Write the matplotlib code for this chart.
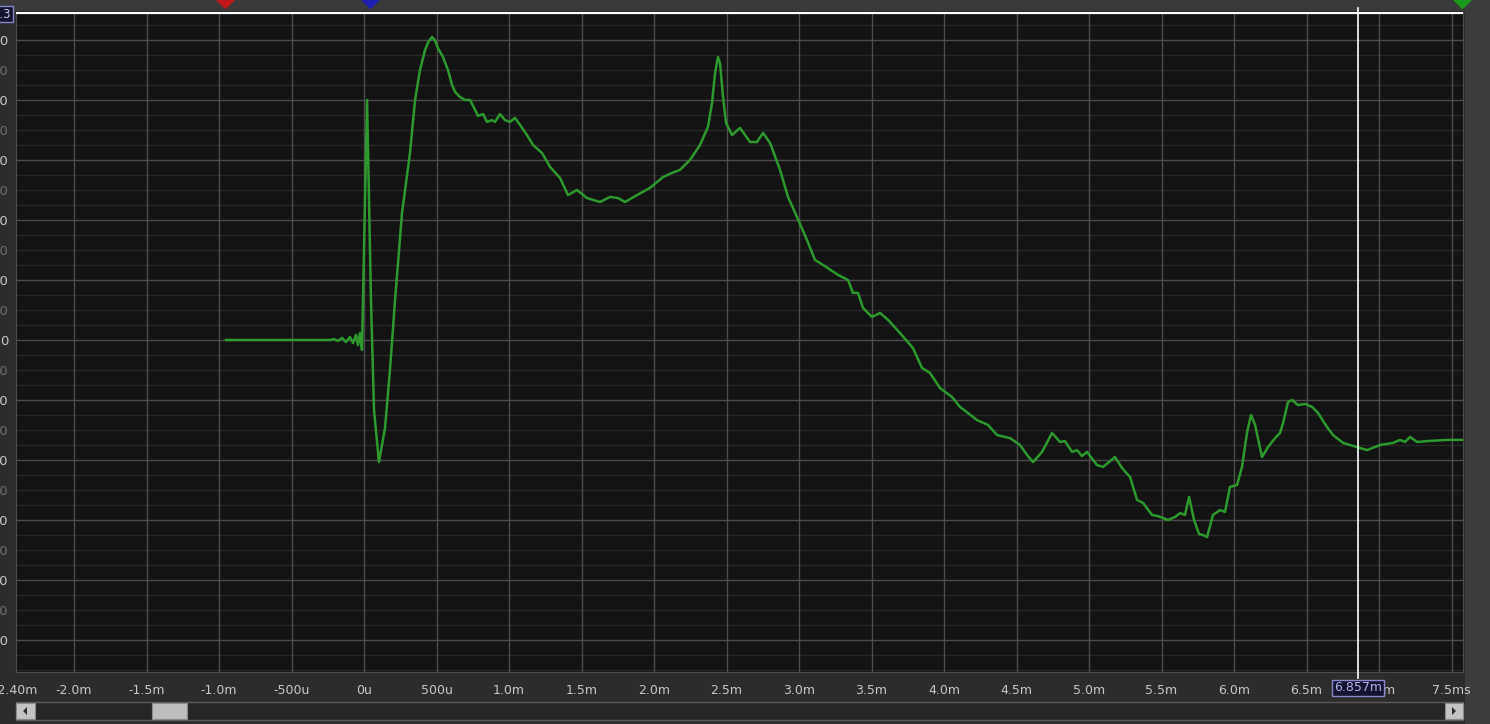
import numpy as np
import matplotlib
matplotlib.use('Agg')
import matplotlib.pyplot as plt
from matplotlib.patches import Rectangle, Polygon

# time axis in ms, amplitude in arbitrary units (grid every 10)
t_ms = [-0.952, -0.234, -0.207, -0.179, -0.152, -0.124, -0.097, -0.076, -0.055, -0.041,
        -0.028, -0.014, 0.021, 0.048, 0.069, 0.103, 0.124, 0.145, 0.179, 0.214,
        0.262, 0.317, 0.352, 0.386, 0.421, 0.445, 0.469, 0.490, 0.510, 0.545, 0.579, 0.607,
        0.628, 0.662, 0.697, 0.731, 0.766, 0.786, 0.821, 0.848, 0.883, 0.903,
        0.938, 0.972, 1.007, 1.041, 1.076, 1.124, 1.166, 1.228, 1.283, 1.352,
        1.407, 1.469, 1.538, 1.628, 1.697, 1.752, 1.800, 1.883, 1.972, 2.062,
        2.124, 2.179, 2.248, 2.317, 2.372, 2.400, 2.421, 2.441, 2.455, 2.476,
        2.497, 2.538, 2.593, 2.662, 2.710, 2.752, 2.800, 2.869, 2.924, 2.986,
        3.055, 3.110, 3.166, 3.269, 3.338, 3.372, 3.407, 3.441, 3.503, 3.559,
        3.614, 3.697, 3.786, 3.848, 3.903, 3.972, 4.055, 4.110, 4.228, 4.303,
        4.366, 4.455, 4.524, 4.572, 4.614, 4.676, 4.745, 4.800, 4.834, 4.883,
        4.917, 4.952, 4.986, 5.055, 5.097, 5.179, 5.228, 5.283, 5.331, 5.372,
        5.434, 5.476, 5.545, 5.593, 5.628, 5.662, 5.690, 5.724, 5.759, 5.786,
        5.814, 5.855, 5.903, 5.938, 5.972, 6.021, 6.055, 6.090, 6.117, 6.145,
        6.193, 6.234, 6.283, 6.317, 6.338, 6.372, 6.400, 6.441, 6.490, 6.538,
        6.579, 6.641, 6.683, 6.752, 6.821, 6.917, 7.007, 7.097, 7.145, 7.179,
        7.214, 7.262, 7.331, 7.469, 7.579]
amp = [0, 0, 0.3, -0.3, 0.7, -0.7, 1.0, -1.0, 1.7, -1.7,
       2.3, -3.3, 80, 13.3, -23.3, -40.7, -35, -29.3, -10, 13.3,
       42.3, 62.3, 80, 90, 96.7, 99.5, 101, 99.8, 97.3, 94.3, 90, 85,
       82.7, 81, 80, 80, 76.7, 74.7, 75.3, 72.7, 73.3, 72.7,
       75.3, 73.3, 72.7, 74, 71.7, 68.3, 65, 62.3, 57.7, 54,
       48.3, 50, 47.3, 46, 47.7, 47.3, 46, 48.3, 50.7, 54.3,
       55.7, 56.7, 60, 65, 71, 79, 89, 94.3, 92.3, 81,
       72.3, 68.3, 70.7, 66, 66, 69, 65.7, 56.7, 47.7, 41,
       33.3, 26.7, 25, 21.7, 20, 15.7, 15.7, 10.7, 7.7, 9,
       6.7, 2.3, -2.7, -9.3, -11, -16, -19, -22.3, -26.7, -28.3,
       -31.7, -32.7, -35, -38.3, -40.7, -37.3, -31, -34, -33.7, -37.3,
       -36.7, -38.7, -37.3, -41.7, -42.3, -39, -42.7, -45.7, -53.3, -54.3,
       -58.3, -58.7, -60, -59, -57.7, -58.3, -52.3, -60, -64.7, -65,
       -65.7, -58.3, -56.7, -57.3, -49, -48.3, -42.3, -30.7, -25, -28.3,
       -39, -35.7, -32.7, -31, -27.7, -20.7, -20, -21.7, -21.3, -22.3,
       -24.3, -29, -31.7, -34.3, -35.3, -36.7, -35, -34.3, -33.3, -34,
       -32.3, -34, -33.7, -33.3, -33.3]

x_ticks = [-2.40, -2.0, -1.5, -1.0, -0.5, 0.0, 0.5, 1.0, 1.5, 2.0, 2.5, 3.0,
           3.5, 4.0, 4.5, 5.0, 5.5, 6.0, 6.5, 7.0, 7.5]
x_labels = ['-2.40m', '-2.0m', '-1.5m', '-1.0m', '-500u', '0u', '500u', '1.0m',
            '1.5m', '2.0m', '2.5m', '3.0m', '3.5m', '4.0m', '4.5m', '5.0m',
            '5.5m', '6.0m', '6.5m', '7.0m', '7.5ms']
y_ticks = list(range(-100, 101, 10))
cursor_t = 6.857
cursor_label = '6.857m'
cursor_level = '109.3'
markers = [(-0.959, '#c01818'), (0.041, '#2020b0'), (7.57, '#1a9a1a')]

W, H = 1490, 724
xlim = (-2.40, 7.579)
ylim = (-110.67, 109.33)

fig = plt.figure(figsize=(W / 100, H / 100), dpi=100, facecolor='#2c2c2c')


def px_rect(x0, y0, x1, y1, zorder=1, **kw):
    # rectangle given in image pixels (origin top-left)
    r = Rectangle((x0 / W, 1 - y1 / H), (x1 - x0) / W, (y1 - y0) / H,
                  transform=fig.transFigure, zorder=zorder, **kw)
    fig.add_artist(r)
    return r


# window chrome strips (behind the axes)
px_rect(0, 0, W, 11, zorder=-2, facecolor='#3a3a3a', edgecolor='none')
px_rect(1465, 0, W, H, zorder=-2, facecolor='#3c3c3c', edgecolor='none')

ax = fig.add_axes([16 / W, 52 / H, 1447 / W, 660 / H])
ax.set_facecolor('#131313')
ax.set_xlim(*xlim)
ax.set_ylim(*ylim)

# grid
for v in np.arange(-110, 110, 5):
    c = '#4c4c4c' if v % 20 == 0 else '#272727'
    ax.axhline(v, color=c, lw=1.0, zorder=1)
for t in x_ticks[1:]:
    ax.axvline(t, color='#4c4c4c', lw=1.0, zorder=1)

ax.plot(t_ms, amp, color='#2c9a2c', lw=1.8, zorder=3, solid_joinstyle='round')

# cursors
ax.axhline(ylim[1] - 0.4, color='white', lw=1.6, zorder=4)
ax.plot([cursor_t, cursor_t], [ylim[0] - 2, ylim[1] + 1.3], color='white',
        lw=1.2, zorder=4, clip_on=False)

for s in ax.spines.values():
    s.set_color('#4c4c4c')

ax.set_xticks(x_ticks)
ax.set_xticklabels(x_labels)
ax.set_yticks(y_ticks)
ax.set_yticklabels([str(v) for v in y_ticks])
ax.tick_params(axis='x', length=0, pad=9, labelsize=9, labelcolor='#c8c8c8')
ax.tick_params(axis='y', length=0, pad=5.5, labelsize=9.5)
for lab, v in zip(ax.get_yticklabels(), y_ticks):
    lab.set_color('#c8c8c8' if v % 20 == 0 else '#6e6e6e')

# cursor readouts
ax.text(cursor_t, ylim[0] - 5.3, cursor_label, ha='center', va='center',
        fontsize=9, color='#b0b0ec', zorder=6, clip_on=False,
        bbox=dict(boxstyle='square,pad=0.15', facecolor='#141430', edgecolor='#8888cc', lw=1))
fig.text(11.5 / W, 1 - 14 / H, cursor_level, ha='right', va='center', fontsize=8.5,
         color='#c8c8e8', zorder=5,
         bbox=dict(boxstyle='square,pad=0.12', facecolor='#141430', edgecolor='#8888cc', lw=1))

# reference markers above the plot, half cut by the window edge
for mt, mc in markers:
    ax.plot(mt, ylim[1] + 4.6, marker='D', ms=10, color=mc, mec=mc,
            clip_on=False, zorder=7)

# scroll bar
px_rect(16, 702, 1463, 720, facecolor='#262626', edgecolor='#5a5a5a', lw=1)
px_rect(16, 703, 35, 719, facecolor='#c4c4c4', edgecolor='#8a8a8a', lw=0.8)
px_rect(152, 703, 187, 719, facecolor='#bdbdbd', edgecolor='#8a8a8a', lw=0.8)
px_rect(1445, 703, 1463, 719, facecolor='#c4c4c4', edgecolor='#8a8a8a', lw=0.8)
for pts in ([(27, 707), (27, 715), (23, 711)], [(1452, 707), (1452, 715), (1456, 711)]):
    fig.add_artist(Polygon([(x / W, 1 - y / H) for x, y in pts], closed=True,
                           transform=fig.transFigure, facecolor='#303030', edgecolor='none'))

fig.savefig('out.png', dpi=100, facecolor=fig.get_facecolor())
